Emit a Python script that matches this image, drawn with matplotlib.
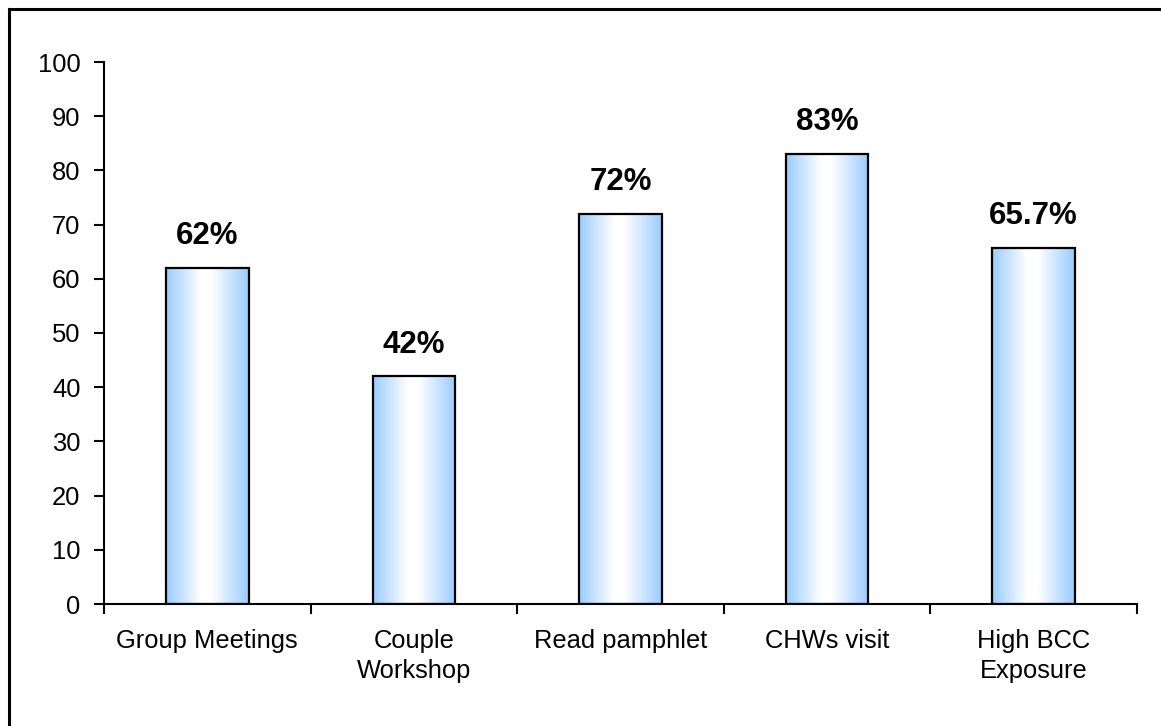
import numpy as np
import matplotlib
matplotlib.use("Agg")
import matplotlib.pyplot as plt
from matplotlib.lines import Line2D
from matplotlib.colors import LinearSegmentedColormap

# Data
categories = ["Group Meetings", "Couple\nWorkshop", "Read pamphlet", "CHWs visit", "High BCC\nExposure"]
values = [62, 42, 72, 83, 65.7]
value_labels = ["62%", "42%", "72%", "83%", "65.7%"]
yticks = [0, 10, 20, 30, 40, 50, 60, 70, 80, 90, 100]

plt.rcParams["font.family"] = ["Liberation Sans", "DejaVu Sans"]

W, H, DPI = 1161, 726, 100
fig = plt.figure(figsize=(W / DPI, H / DPI), dpi=DPI)
fig.patch.set_facecolor("white")

ax = fig.add_axes([104 / W, 1 - 604 / H, (1137 - 104) / W, (604 - 62) / H])

x = np.arange(len(categories))
bars = ax.bar(x, values, width=0.4, facecolor="none", edgecolor="black",
              linewidth=1.6, zorder=3)

# Horizontal gradient fill: light blue at the edges, white in the middle
grad_cmap = LinearSegmentedColormap.from_list(
    "barfade", [(0.0, "#99CCFF"), (0.42, "#FFFFFF"), (0.55, "#FFFFFF"), (1.0, "#99CCFF")])
gradient = np.linspace(0, 1, 256).reshape(1, -1)
for b in bars:
    x0, y0 = b.get_x(), b.get_y()
    w, h = b.get_width(), b.get_height()
    im = ax.imshow(gradient, cmap=grad_cmap, aspect="auto",
                   extent=(x0, x0 + w, y0, y0 + h), zorder=2, interpolation="bicubic")
    im.set_clip_path(b)

for xi, v, lab in zip(x, values, value_labels):
    ax.annotate(lab, (xi, v), xytext=(0, 12), textcoords="offset points",
                ha="center", va="bottom", fontsize=22.5, fontweight="bold")

ax.set_xlim(-0.5, len(categories) - 0.5)
ax.set_ylim(0, 100)
ax.set_yticks(yticks)
ax.set_yticklabels([str(t) for t in yticks])

# Category labels centred under bars, ticks on category boundaries
ax.set_xticks(np.arange(-0.5, len(categories) + 0.5, 1.0))
ax.set_xticklabels([])
ax.set_xticks(x, minor=True)
ax.set_xticklabels(categories, minor=True, fontsize=18.4, linespacing=1.32)
ax.tick_params(axis="x", which="minor", length=0, pad=18)
ax.tick_params(axis="x", which="major", direction="out", length=7, width=1.5)
ax.tick_params(axis="y", direction="out", length=7, width=1.5, labelsize=18.4, pad=10)

for side in ("top", "right"):
    ax.spines[side].set_visible(False)
for side in ("left", "bottom"):
    ax.spines[side].set_linewidth(1.5)

# Outer frame
fig.add_artist(Line2D([8.5 / W, 8.5 / W], [0, 1 - 9 / H], transform=fig.transFigure,
                      color="black", linewidth=2.2))
fig.add_artist(Line2D([8.5 / W, 1], [1 - 9 / H, 1 - 9 / H], transform=fig.transFigure,
                      color="black", linewidth=2.2))

fig.savefig("out.png", dpi=DPI)
